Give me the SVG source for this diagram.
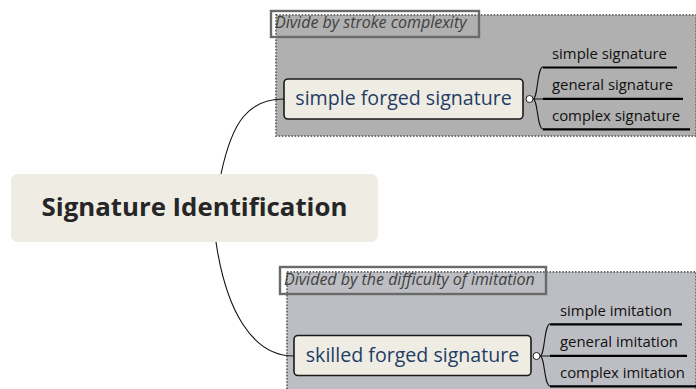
<svg xmlns="http://www.w3.org/2000/svg" width="696" height="389" viewBox="0 0 696 389">
<style>
.t{font-family:"Open Sans","Noto Sans",sans-serif}
.bnd{stroke:#6e6e6e;stroke-width:2;stroke-dasharray:1.6 1.6}
.lbl{fill:none;stroke:#6a6a6a;stroke-width:2.4}
.lt{font-style:italic;font-size:16px;fill:#404040}
.node{fill:#efece3;stroke:#1a1a1a;stroke-width:1.6}
.nt{font-size:19.6px;fill:#1f3d66}
.st{font-size:14.9px;fill:#111}
.ul{stroke:#000;stroke-width:2.2}
.con{fill:none;stroke:#111;stroke-width:1.1}
.tog{fill:#fff;stroke:#222;stroke-width:1}
</style>
<rect width="696" height="389" fill="#ffffff"/>
<g id="boundary1">
<rect x="276" y="15" width="420" height="121" fill="#b0b0b0" class="bnd"/>
<rect x="271" y="11" width="208" height="26" fill="#b0b0b0" class="lbl"/>
<text x="275" y="28" class="t lt">Divide by stroke complexity</text>
</g>
<g id="boundary2">
<rect x="287" y="272" width="409" height="120" fill="#bdbec3" class="bnd"/>
<rect x="280" y="267" width="266" height="27" fill="#bdbec3" class="lbl"/>
<text x="284" y="285" class="t lt">Divided by the difficulty of imitation</text>
</g>
<g id="connectors">
<path class="con" d="M221,174 C232,122 248,99 284,99"/>
<path class="con" d="M216,242 C226,310 252,356 294,356"/>
<path class="con" d="M533,99 C538,99 537,67 543,67 M533,99 L543,99 M533,99 C538,99 537,129 543,129"/>
<path class="con" d="M540,356 C545,356 544,324 550,324 M540,356 L550,356 M540,356 C545,356 544,386 550,386"/>
</g>
<g id="central">
<rect x="11" y="174" width="367" height="68" rx="7" fill="#efece3"/>
<text x="194.5" y="215.5" text-anchor="middle" class="t" font-weight="bold" font-size="25.8px" fill="#262626">Signature Identification</text>
</g>
<g id="simple-forged">
<rect x="284" y="79" width="239" height="40" rx="4" class="node"/>
<text x="403.5" y="104.5" text-anchor="middle" class="t nt">simple forged signature</text>
<circle cx="529.5" cy="99" r="3.5" class="tog"/>
</g>
<g id="simple-signature">
<text x="552" y="58.5" class="t st">simple signature</text>
<line x1="543" y1="67.5" x2="677" y2="67.5" class="ul"/>
</g>
<g id="general-signature">
<text x="552" y="89.5" class="t st">general signature</text>
<line x1="543" y1="98.8" x2="683" y2="98.8" class="ul"/>
</g>
<g id="complex-signature">
<text x="552" y="121" class="t st">complex signature</text>
<line x1="543" y1="129.3" x2="690" y2="129.3" class="ul"/>
</g>
<g id="skilled-forged">
<rect x="294" y="335.5" width="237" height="40" rx="4" class="node"/>
<text x="412.5" y="361.5" text-anchor="middle" class="t nt">skilled forged signature</text>
<circle cx="536.5" cy="356" r="3.5" class="tog"/>
</g>
<g id="simple-imitation">
<text x="560" y="315.5" class="t st">simple imitation</text>
<line x1="550" y1="324.3" x2="682" y2="324.3" class="ul"/>
</g>
<g id="general-imitation">
<text x="560" y="346.5" class="t st">general imitation</text>
<line x1="550" y1="355.8" x2="687" y2="355.8" class="ul"/>
</g>
<g id="complex-imitation">
<text x="560" y="377.5" class="t st">complex imitation</text>
<line x1="550" y1="386.3" x2="696" y2="386.3" class="ul"/>
</g>
</svg>
